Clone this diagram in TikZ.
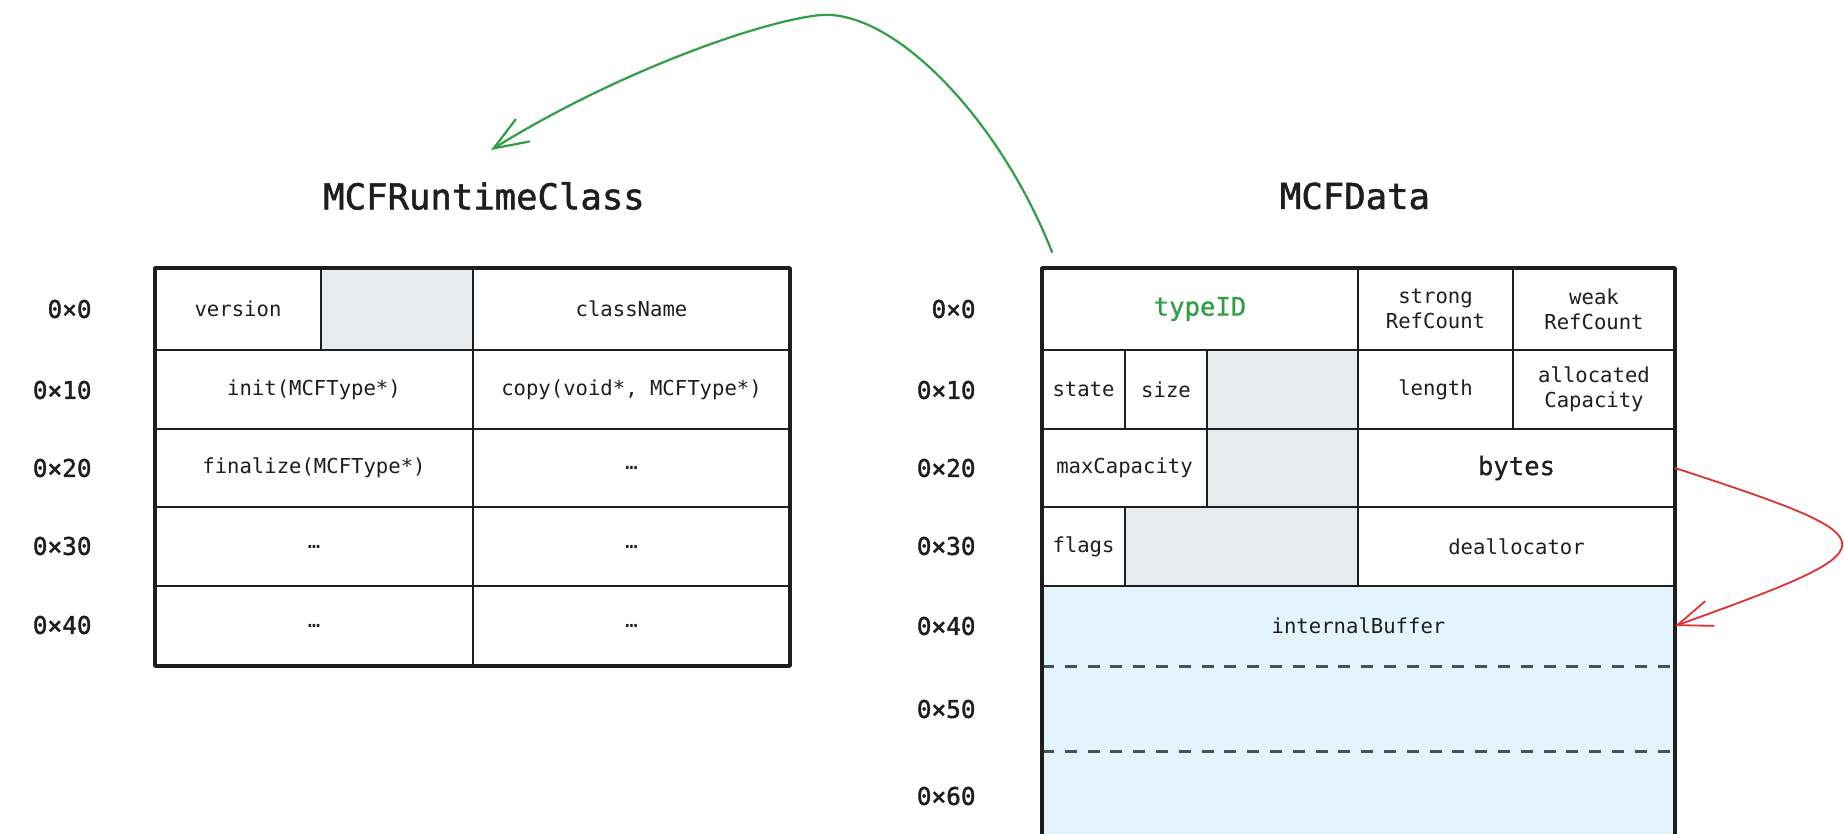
\documentclass[tikz,border=0pt]{standalone}
\usepackage{fontspec}
\usetikzlibrary{arrows.meta,calc}
\newfontfamily\mcMono{DejaVu Sans Mono}
\newfontfamily\mcMonoSemi[FakeBold=1.5]{DejaVu Sans Mono}
\newfontfamily\mcMonoMed[FakeBold=0.6]{DejaVu Sans Mono}
\newcommand\mcCellFont{\mcMono\fontsize{10.3}{12.5}\selectfont}
\newcommand\mcBigFont{\mcMonoMed\fontsize{12.8}{15}\selectfont}
\newcommand\mcOffFont{\mcMonoSemi\fontsize{12.2}{14}\selectfont}
\newcommand\mcTitleFont{\mcMonoSemi\fontsize{17.8}{20}\selectfont}
\definecolor{ink}{HTML}{1E1E1E}
\definecolor{padgray}{HTML}{E9ECEF}
\definecolor{buffblue}{HTML}{E3F4FD}
\definecolor{dashgray}{HTML}{495057}
\definecolor{mcgreen}{HTML}{2F9E44}
\definecolor{mcred}{HTML}{E03131}
\newcommand\mcell[7]{\node[cellbox,#6,minimum width={(#4-#2)*0.5pt},minimum height={(#5-#3)*0.5pt}] (#1) at ({(#2+#4)/2},{(#3+#5)/2}) {#7};}
\tikzset{
  cellbox/.style={draw=ink,line width=1.2pt,fill=white,inner sep=0pt,outer sep=0pt,
    font=\mcCellFont,text=ink,align=center},
  graycell/.style={fill=padgray},
  bigtxt/.style={font=\mcBigFont},
  bufbox/.style={draw=none,fill=buffblue,inner sep=0pt,outer sep=0pt,font=\mcCellFont,text=ink},
  gridline/.style={draw=ink,line width=1.2pt},
  tblframe/.style={draw=ink,line width=1.8pt,line join=round},
  bufdash/.style={draw=dashgray,line width=1.5pt,dash pattern=on 6pt off 5.4pt},
  offlbl/.style={font=\mcOffFont,text=ink,anchor=east,inner sep=0pt},
  titlelbl/.style={font=\mcTitleFont,text=ink,inner sep=0pt},
  greenarrow/.style={draw=mcgreen,line width=1.1pt,line cap=round,-{Straight Barb[length=17pt,width=13pt,line cap=round]}},
  redarrow/.style={draw=mcred,line width=0.9pt,line cap=round,-{Straight Barb[length=17pt,width=13pt,line cap=round]}},
}
\begin{document}
\begin{tikzpicture}[x=0.5pt,y=-0.5pt]
\useasboundingbox (0,0) rectangle (1844,834);
\fill[white] (0,0) rectangle (1844,834);

% titles
\node[titlelbl] (rtclass) at (484,196) {MCFRuntimeClass};
\node[titlelbl] (mcfdata) at (1355,196) {MCFData};

% ---- left table ----
\mcell{version}{155}{268}{321}{350}{}{version}
\mcell{lpad}{321}{268}{473}{350}{graycell}{}
\mcell{classname}{473}{268}{790}{350}{}{className}
\mcell{init}{155}{350}{473}{429}{}{init(MCFType*)}
\mcell{copy}{473}{350}{790}{429}{}{copy(void*, MCFType*)}
\mcell{finalize}{155}{429}{473}{507}{}{finalize(MCFType*)}
\mcell{ltwob}{473}{429}{790}{507}{}{…}
\mcell{lthreea}{155}{507}{473}{586}{}{…}
\mcell{lthreeb}{473}{507}{790}{586}{}{…}
\mcell{lfoura}{155}{586}{473}{666}{}{…}
\mcell{lfourb}{473}{586}{790}{666}{}{…}
\draw[tblframe] (version.north west) rectangle (lfourb.south east);

\node[offlbl] (lo0) at (92,309) {0×0};
\node[offlbl] (lo1) at (92,390) {0×10};
\node[offlbl] (lo2) at (92,468) {0×20};
\node[offlbl] (lo3) at (92,546) {0×30};
\node[offlbl] (lo4) at (92,625) {0×40};

% ---- right table ----
\mcell{typeid}{1042}{268}{1358}{350}{bigtxt,text=mcgreen}{typeID}
\mcell{strong}{1358}{268}{1513}{350}{}{strong\\RefCount}
\mcell{weak}{1513}{268}{1675}{350}{}{weak\\RefCount}
\mcell{state}{1042}{350}{1125}{429}{}{state}
\mcell{size}{1125}{350}{1207}{429}{}{size}
\mcell{rpadone}{1207}{350}{1358}{429}{graycell}{}
\mcell{length}{1358}{350}{1513}{429}{}{length}
\mcell{alloc}{1513}{350}{1675}{429}{}{allocated\\Capacity}
\mcell{maxcap}{1042}{429}{1207}{507}{}{maxCapacity}
\mcell{rpadtwo}{1207}{429}{1358}{507}{graycell}{}
\mcell{bytes}{1358}{429}{1675}{507}{bigtxt}{bytes}
\mcell{flags}{1042}{507}{1125}{586}{}{flags}
\mcell{rpadthree}{1125}{507}{1358}{586}{graycell}{}
\mcell{dealloc}{1358}{507}{1675}{586}{}{deallocator}

\node[bufbox,minimum width={633*0.5pt},minimum height={80*0.5pt}] (bufzero) at (1358.5,626) {internalBuffer};
\node[bufbox,minimum width={633*0.5pt},minimum height={85*0.5pt}] (bufone) at (1358.5,708.5) {};
\node[bufbox,minimum width={633*0.5pt},minimum height={100*0.5pt}] (buftwo) at (1358.5,801) {};
\draw[bufdash] (bufzero.south west) -- (bufzero.south east);
\draw[bufdash] (bufone.south west) -- (bufone.south east);
\draw[gridline] (bufzero.north west) -- (bufzero.north east);
\draw[tblframe] (buftwo.south west) -- (typeid.north west) -- (weak.north east) -- (buftwo.south east);

\node[offlbl] (ro0) at (976,309) {0×0};
\node[offlbl] (ro1) at (976,390) {0×10};
\node[offlbl] (ro2) at (976,468) {0×20};
\node[offlbl] (ro3) at (976,546) {0×30};
\node[offlbl] (ro4) at (976,626) {0×40};
\node[offlbl] (ro5) at (976,709) {0×50};
\node[offlbl] (ro6) at (976,796) {0×60};

% ---- arrows ----
\coordinate (gstart) at ($(typeid.north west)+(10,-16)$);
\coordinate (gpeak) at (821,15);
\coordinate (gend) at ($(rtclass.center)+(7,-46)$);
\draw[greenarrow] (gstart) .. controls (1000,120) and (895,10) .. (gpeak)
  .. controls (765,20) and (620,70) .. (gend);
\draw[redarrow] (bytes.east) .. controls +(223,73) and +(222,-80) .. (bufzero.east);
\end{tikzpicture}
\end{document}
